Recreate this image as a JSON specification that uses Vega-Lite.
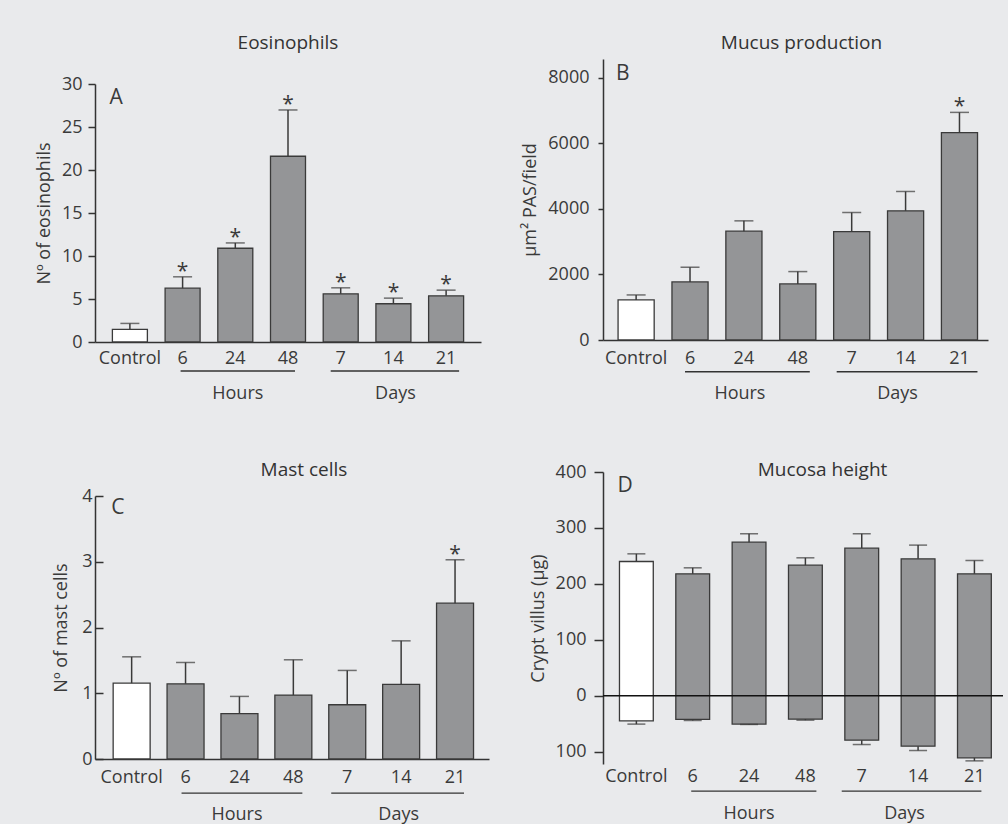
{
  "$schema": "https://vega.github.io/schema/vega-lite/v6.json",
  "background": "#e9eaec",
  "padding": {"left": 35, "top": 27, "right": 20, "bottom": 12},
  "config": {
    "font": "Open Sans",
    "view": {"stroke": null},
    "axis": {"labelFont": "Open Sans", "titleFont": "Open Sans", "labelFontSize": 18, "titleFontSize": 18, "titleFontWeight": "normal", "labelColor": "#3a3a3a", "titleColor": "#3a3a3a", "domainColor": "#333333", "tickColor": "#333333", "domainWidth": 1.5, "tickWidth": 1.5, "grid": false},
    "axisX": {"ticks": false, "title": null, "labelAngle": 0},
    "title": {"font": "Open Sans", "fontSize": 19, "fontWeight": "normal", "color": "#333333", "anchor": "middle", "frame": "group"},
    "text": {"font": "Open Sans", "color": "#3a3a3a"}
  },
  "datasets": {
    "eos": [
      {"group": "Control", "value": 1.47, "hi": 2.16, "sig": false},
      {"group": "6", "value": 6.26, "hi": 7.58, "sig": true},
      {"group": "24", "value": 10.9, "hi": 11.52, "sig": true},
      {"group": "48", "value": 21.6, "hi": 26.98, "sig": true},
      {"group": "7", "value": 5.6, "hi": 6.3, "sig": true},
      {"group": "14", "value": 4.45, "hi": 5.1, "sig": true},
      {"group": "21", "value": 5.37, "hi": 6.03, "sig": true}
    ],
    "mucus": [
      {"group": "Control", "value": 1223, "hi": 1376, "sig": false},
      {"group": "6", "value": 1773, "hi": 2222, "sig": false},
      {"group": "24", "value": 3322, "hi": 3638, "sig": false},
      {"group": "48", "value": 1712, "hi": 2089, "sig": false},
      {"group": "7", "value": 3312, "hi": 3893, "sig": false},
      {"group": "14", "value": 3944, "hi": 4535, "sig": false},
      {"group": "21", "value": 6329, "hi": 6950, "sig": true}
    ],
    "mast": [
      {"group": "Control", "value": 1.154, "hi": 1.554, "sig": false},
      {"group": "6", "value": 1.144, "hi": 1.468, "sig": false},
      {"group": "24", "value": 0.689, "hi": 0.952, "sig": false},
      {"group": "48", "value": 0.972, "hi": 1.509, "sig": false},
      {"group": "7", "value": 0.825, "hi": 1.347, "sig": false},
      {"group": "14", "value": 1.134, "hi": 1.797, "sig": false},
      {"group": "21", "value": 2.37, "hi": 3.03, "sig": true}
    ],
    "mucosa": [
      {"group": "Control", "villus": 240, "villus_hi": 253.7, "crypt": -44.8, "crypt_lo": -50.7},
      {"group": "6", "villus": 218, "villus_hi": 228.7, "crypt": -42.4, "crypt_lo": -44.2},
      {"group": "24", "villus": 274.6, "villus_hi": 289.6, "crypt": -50.7, "crypt_lo": -51.3},
      {"group": "48", "villus": 233.4, "villus_hi": 246.6, "crypt": -41.8, "crypt_lo": -43.6},
      {"group": "7", "villus": 263.9, "villus_hi": 289.6, "crypt": -79.4, "crypt_lo": -87.2},
      {"group": "14", "villus": 244.8, "villus_hi": 269.3, "crypt": -90.1, "crypt_lo": -97.9},
      {"group": "21", "villus": 218, "villus_hi": 241.8, "crypt": -111, "crypt_lo": -116.4}
    ],
    "hours": [{"from": "6", "to": "48", "mid": "24", "label": "Hours"}],
    "days": [{"from": "7", "to": "21", "mid": "14", "label": "Days"}],
    "blank": [{"k": 1}]
  },
  "spacing": 32,
  "hconcat": [
    {
      "spacing": 57,
      "vconcat": [
        {
          "spacing": 0,
          "vconcat": [
            {"width": 1, "height": 1, "data": {"name": "blank"}, "mark": {"type": "point", "opacity": 0}},
            {
              "width": 386, "height": 258,
              "title": {"text": "Eosinophils", "offset": 22},
              "layer": [
                {
                  "data": {"name": "eos"},
                  "mark": {"type": "bar", "stroke": "#3a3a3a", "strokeWidth": 1.3},
                  "encoding": {
                    "x": {"field": "group", "type": "nominal", "scale": {"domain": ["Control", "6", "24", "48", "7", "14", "21"], "paddingInner": 0.336, "paddingOuter": 0.33, "align": 0.5}, "axis": {"labelPadding": 7}},
                    "y": {"field": "value", "type": "quantitative", "scale": {"domain": [0, 30], "nice": false}, "axis": {"values": [0, 5, 10, 15, 20, 25, 30], "title": "Nº of eosinophils", "tickSize": 7, "labelPadding": 6, "titlePadding": 8}},
                    "fill": {"condition": {"test": "datum.group === 'Control'", "value": "#ffffff"}, "value": "#949597"}
                  }
                },
                {
                  "data": {"name": "eos"},
                  "mark": {"type": "rule", "color": "#3a3a3a", "strokeWidth": 1.5},
                  "encoding": {"x": {"field": "group", "type": "nominal"}, "y": {"field": "value", "type": "quantitative"}, "y2": {"field": "hi"}}
                },
                {
                  "data": {"name": "eos"},
                  "mark": {"type": "tick", "color": "#3a3a3a", "size": 19, "thickness": 1.5},
                  "encoding": {"x": {"field": "group", "type": "nominal"}, "y": {"field": "hi", "type": "quantitative"}}
                },
                {
                  "data": {"name": "eos"},
                  "transform": [{"filter": "datum.sig"}],
                  "mark": {"type": "text", "text": "*", "fontSize": 21, "baseline": "alphabetic", "dy": 1},
                  "encoding": {"x": {"field": "group", "type": "nominal"}, "y": {"field": "hi", "type": "quantitative"}}
                },
                {
                  "data": {"values": [{"letter": "A"}]},
                  "mark": {"type": "text", "fontSize": 21, "align": "left", "baseline": "alphabetic", "dx": -3},
                  "encoding": {"x": {"datum": "Control", "bandPosition": 0}, "y": {"datum": 27.67}, "text": {"field": "letter"}}
                },
                {
                  "data": {"name": "hours"},
                  "mark": {"type": "rule", "color": "#333333", "strokeWidth": 1.3, "xOffset": -2, "x2Offset": 7},
                  "encoding": {"x": {"field": "from", "type": "nominal"}, "x2": {"field": "to"}, "y": {"datum": -3.37}}
                },
                {
                  "data": {"name": "days"},
                  "mark": {"type": "rule", "color": "#333333", "strokeWidth": 1.3, "xOffset": -10, "x2Offset": 13},
                  "encoding": {"x": {"field": "from", "type": "nominal"}, "x2": {"field": "to"}, "y": {"datum": -3.37}}
                },
                {
                  "data": {"name": "hours"},
                  "mark": {"type": "text", "fontSize": 18, "baseline": "alphabetic", "dx": 2.5},
                  "encoding": {"x": {"field": "mid", "type": "nominal"}, "y": {"datum": -6.63}, "text": {"field": "label"}}
                },
                {
                  "data": {"name": "days"},
                  "mark": {"type": "text", "fontSize": 18, "baseline": "alphabetic", "dx": 2},
                  "encoding": {"x": {"field": "mid", "type": "nominal"}, "y": {"datum": -6.63}, "text": {"field": "label"}}
                }
              ]
            }
          ]
        },
        {
          "width": 394, "height": 263,
          "title": {"text": "Mast  cells", "offset": 7, "dx": 12},
          "layer": [
            {
              "data": {"name": "mast"},
              "mark": {"type": "bar", "stroke": "#3a3a3a", "strokeWidth": 1.3},
              "encoding": {
                "x": {"field": "group", "type": "nominal", "scale": {"domain": ["Control", "6", "24", "48", "7", "14", "21"], "paddingInner": 0.314, "paddingOuter": 0.312, "align": 0.54}, "axis": {"labelPadding": 9}},
                "y": {"field": "value", "type": "quantitative", "scale": {"domain": [0, 4], "nice": false}, "axis": {"values": [0, 1, 2, 3, 4], "format": "d", "title": "Nº of mast cells", "tickSize": -8, "labelPadding": 11, "titlePadding": 11}},
                "fill": {"condition": {"test": "datum.group === 'Control'", "value": "#ffffff"}, "value": "#949597"}
              }
            },
            {
              "data": {"name": "mast"},
              "mark": {"type": "rule", "color": "#3a3a3a", "strokeWidth": 1.5},
              "encoding": {"x": {"field": "group", "type": "nominal"}, "y": {"field": "value", "type": "quantitative"}, "y2": {"field": "hi"}}
            },
            {
              "data": {"name": "mast"},
              "mark": {"type": "tick", "color": "#3a3a3a", "size": 19, "thickness": 1.5},
              "encoding": {"x": {"field": "group", "type": "nominal"}, "y": {"field": "hi", "type": "quantitative"}}
            },
            {
              "data": {"name": "mast"},
              "transform": [{"filter": "datum.sig"}],
              "mark": {"type": "text", "text": "*", "fontSize": 21, "baseline": "alphabetic", "dy": 1},
              "encoding": {"x": {"field": "group", "type": "nominal"}, "y": {"field": "hi", "type": "quantitative"}}
            },
            {
              "data": {"values": [{"letter": "C"}]},
              "mark": {"type": "text", "fontSize": 21, "align": "left", "baseline": "alphabetic", "dx": -2},
              "encoding": {"x": {"datum": "Control", "bandPosition": 0}, "y": {"datum": 3.73}, "text": {"field": "letter"}}
            },
            {
              "data": {"name": "hours"},
              "mark": {"type": "rule", "color": "#333333", "strokeWidth": 1.3, "xOffset": -4, "x2Offset": 9},
              "encoding": {"x": {"field": "from", "type": "nominal"}, "x2": {"field": "to"}, "y": {"datum": -0.52}}
            },
            {
              "data": {"name": "days"},
              "mark": {"type": "rule", "color": "#333333", "strokeWidth": 1.3, "xOffset": -16, "x2Offset": 9},
              "encoding": {"x": {"field": "from", "type": "nominal"}, "x2": {"field": "to"}, "y": {"datum": -0.52}}
            },
            {
              "data": {"name": "hours"},
              "mark": {"type": "text", "fontSize": 18, "baseline": "alphabetic", "dx": -2.5},
              "encoding": {"x": {"field": "mid", "type": "nominal"}, "y": {"datum": -0.922}, "text": {"field": "label"}}
            },
            {
              "data": {"name": "days"},
              "mark": {"type": "text", "fontSize": 18, "baseline": "alphabetic", "dx": -2.5},
              "encoding": {"x": {"field": "mid", "type": "nominal"}, "y": {"datum": -0.922}, "text": {"field": "label"}}
            }
          ]
        }
      ]
    },
    {
      "spacing": 57,
      "vconcat": [
        {
          "spacing": 0,
          "vconcat": [
            {"width": 1, "height": 1, "data": {"name": "blank"}, "mark": {"type": "point", "opacity": 0}},
            {
              "width": 385, "height": 281,
              "title": {"text": "Mucus  production", "offset": 6, "dx": 6},
              "layer": [
                {
                  "data": {"name": "mucus"},
                  "mark": {"type": "bar", "stroke": "#3a3a3a", "strokeWidth": 1.3},
                  "encoding": {
                    "x": {"field": "group", "type": "nominal", "scale": {"domain": ["Control", "6", "24", "48", "7", "14", "21"], "paddingInner": 0.33, "paddingOuter": 0.237, "align": 0.59}, "axis": {"labelPadding": 9}},
                    "y": {"field": "value", "type": "quantitative", "scale": {"domain": [0, 8580], "nice": false}, "axis": {"values": [0, 2000, 4000, 6000, 8000], "format": "d", "title": "µm² PAS/field", "tickSize": 5, "labelPadding": 9, "titlePadding": 8}},
                    "fill": {"condition": {"test": "datum.group === 'Control'", "value": "#ffffff"}, "value": "#949597"}
                  }
                },
                {
                  "data": {"name": "mucus"},
                  "mark": {"type": "rule", "color": "#3a3a3a", "strokeWidth": 1.5},
                  "encoding": {"x": {"field": "group", "type": "nominal"}, "y": {"field": "value", "type": "quantitative"}, "y2": {"field": "hi"}}
                },
                {
                  "data": {"name": "mucus"},
                  "mark": {"type": "tick", "color": "#3a3a3a", "size": 19, "thickness": 1.5},
                  "encoding": {"x": {"field": "group", "type": "nominal"}, "y": {"field": "hi", "type": "quantitative"}}
                },
                {
                  "data": {"name": "mucus"},
                  "transform": [{"filter": "datum.sig"}],
                  "mark": {"type": "text", "text": "*", "fontSize": 21, "baseline": "alphabetic", "dy": 1},
                  "encoding": {"x": {"field": "group", "type": "nominal"}, "y": {"field": "hi", "type": "quantitative"}}
                },
                {
                  "data": {"values": [{"letter": "B"}]},
                  "mark": {"type": "text", "fontSize": 21, "align": "left", "baseline": "alphabetic", "dx": -2},
                  "encoding": {"x": {"datum": "Control", "bandPosition": 0}, "y": {"datum": 7951}, "text": {"field": "letter"}}
                },
                {
                  "data": {"name": "hours"},
                  "mark": {"type": "rule", "color": "#333333", "strokeWidth": 1.3, "xOffset": -5, "x2Offset": 12},
                  "encoding": {"x": {"field": "from", "type": "nominal"}, "x2": {"field": "to"}, "y": {"datum": -969}}
                },
                {
                  "data": {"name": "days"},
                  "mark": {"type": "rule", "color": "#333333", "strokeWidth": 1.3, "xOffset": -15, "x2Offset": 18},
                  "encoding": {"x": {"field": "from", "type": "nominal"}, "x2": {"field": "to"}, "y": {"datum": -969}}
                },
                {
                  "data": {"name": "hours"},
                  "mark": {"type": "text", "fontSize": 18, "baseline": "alphabetic", "dx": -4},
                  "encoding": {"x": {"field": "mid", "type": "nominal"}, "y": {"datum": -1804}, "text": {"field": "label"}}
                },
                {
                  "data": {"name": "days"},
                  "mark": {"type": "text", "fontSize": 18, "baseline": "alphabetic", "dx": -8},
                  "encoding": {"x": {"field": "mid", "type": "nominal"}, "y": {"datum": -1804}, "text": {"field": "label"}}
                }
              ]
            }
          ]
        },
        {
          "width": 391, "height": 292,
          "title": {"text": "Mucosa  height", "offset": -17, "dx": 24},
          "layer": [
            {
              "data": {"name": "mucosa"},
              "mark": {"type": "bar", "stroke": "#3a3a3a", "strokeWidth": 1.3},
              "encoding": {
                "x": {"field": "group", "type": "nominal", "scale": {"domain": ["Control", "6", "24", "48", "7", "14", "21"], "paddingInner": 0.4, "paddingOuter": 0.17, "align": 0.86}, "axis": {"labelPadding": 3, "domain": false}},
                "y": {"field": "villus", "type": "quantitative", "scale": {"domain": [-122, 400], "nice": false}, "axis": {"values": [-100, 0, 100, 200, 300, 400], "labelExpr": "abs(datum.value)", "title": "Crypt villus (µg)", "tickSize": 9, "labelPadding": 8, "titlePadding": 8}},
                "y2": {"field": "crypt"},
                "fill": {"condition": {"test": "datum.group === 'Control'", "value": "#ffffff"}, "value": "#949597"}
              }
            },
            {
              "data": {"name": "mucosa"},
              "mark": {"type": "rule", "color": "#3a3a3a", "strokeWidth": 1.5},
              "encoding": {"x": {"field": "group", "type": "nominal"}, "y": {"field": "villus", "type": "quantitative"}, "y2": {"field": "villus_hi"}}
            },
            {
              "data": {"name": "mucosa"},
              "mark": {"type": "rule", "color": "#3a3a3a", "strokeWidth": 1.5},
              "encoding": {"x": {"field": "group", "type": "nominal"}, "y": {"field": "crypt", "type": "quantitative"}, "y2": {"field": "crypt_lo"}}
            },
            {
              "data": {"name": "mucosa"},
              "mark": {"type": "tick", "color": "#3a3a3a", "size": 18, "thickness": 1.5},
              "encoding": {"x": {"field": "group", "type": "nominal"}, "y": {"field": "villus_hi", "type": "quantitative"}}
            },
            {
              "data": {"name": "mucosa"},
              "mark": {"type": "tick", "color": "#3a3a3a", "size": 18, "thickness": 1.5},
              "encoding": {"x": {"field": "group", "type": "nominal"}, "y": {"field": "crypt_lo", "type": "quantitative"}}
            },
            {
              "data": {"values": [{"z": 0}]},
              "mark": {"type": "rule", "color": "#111111", "strokeWidth": 1.3, "xOffset": 9},
              "encoding": {"y": {"field": "z", "type": "quantitative"}}
            },
            {
              "data": {"values": [{"letter": "D"}]},
              "mark": {"type": "text", "fontSize": 21, "align": "left", "baseline": "alphabetic", "dx": -2},
              "encoding": {"x": {"datum": "Control", "bandPosition": 0}, "y": {"datum": 364.7}, "text": {"field": "letter"}}
            },
            {
              "data": {"name": "hours"},
              "mark": {"type": "rule", "color": "#333333", "strokeWidth": 1.3, "xOffset": -1.5, "x2Offset": 11},
              "encoding": {"x": {"field": "from", "type": "nominal"}, "x2": {"field": "to"}, "y": {"datum": -170.4}}
            },
            {
              "data": {"name": "days"},
              "mark": {"type": "rule", "color": "#333333", "strokeWidth": 1.3, "xOffset": -20, "x2Offset": 7},
              "encoding": {"x": {"field": "from", "type": "nominal"}, "x2": {"field": "to"}, "y": {"datum": -170.4}}
            },
            {
              "data": {"name": "hours"},
              "mark": {"type": "text", "fontSize": 18, "baseline": "alphabetic", "dx": 0},
              "encoding": {"x": {"field": "mid", "type": "nominal"}, "y": {"datum": -219.7}, "text": {"field": "label"}}
            },
            {
              "data": {"name": "days"},
              "mark": {"type": "text", "fontSize": 18, "baseline": "alphabetic", "dx": -13.5},
              "encoding": {"x": {"field": "mid", "type": "nominal"}, "y": {"datum": -219.7}, "text": {"field": "label"}}
            }
          ]
        }
      ]
    }
  ]
}
